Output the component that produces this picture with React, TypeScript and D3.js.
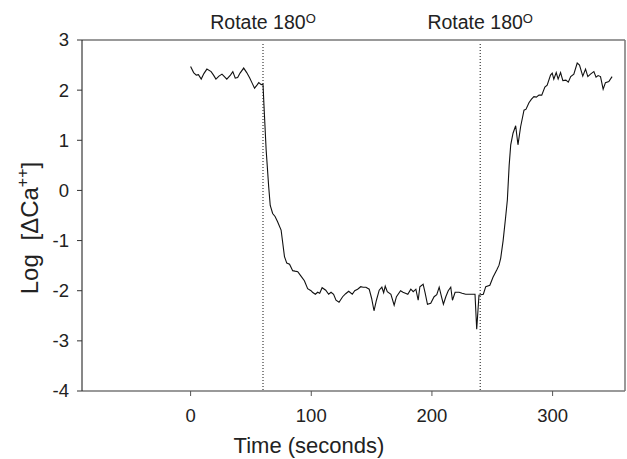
import React from 'react';
import * as d3 from 'd3';

// time (s) and log calcium change
const times = [
  0, 2.5, 4.7, 6.5, 8.8, 11, 13.5, 17, 19, 21, 23.5, 26, 28, 30, 33, 35, 37, 39, 41, 44,
  46.5, 49, 51, 53, 55, 56.5, 58.5, 60, 61, 62.6, 64.7, 66, 68, 70, 72, 75, 77.8, 79.7, 82, 84.6,
  86.5, 88.8, 91.5, 94.3, 97, 99.8, 101, 103.4, 105.3, 107, 109, 112, 114.4, 116.4, 118.5, 120.5, 123, 126, 128.5, 131,
  134, 136, 138.4, 141, 143, 145.3, 148, 150, 152, 154, 156.3, 158.5, 160, 161.3, 163, 166, 168.7, 170.6, 174, 176,
  178, 180, 182.5, 184.5, 186.7, 188.6, 190, 192.7, 194.4, 196.3, 199, 201.8, 204, 206, 207.9, 209.5, 211.5, 213.5, 215.6, 217,
  219.2, 222.5, 225, 228, 231, 233, 235.7, 237.1, 239, 240.5, 242.6, 244.6, 248, 250.6, 254, 255.6, 257, 259, 261, 262.5,
  264, 265.3, 267.2, 269.4, 271.3, 273.5, 276.3, 278, 280.4, 282.5, 284.5, 286.5, 288.7, 291, 293.6, 295.5, 298.3, 299.7, 301, 303,
  304.6, 306.6, 308.5, 311, 313, 315, 317.6, 320.4, 322.3, 325, 327.3, 329.2, 331.4, 334.2, 336, 337.7, 339.7, 341.9, 343.8, 346.6,
  349.3,
];
const logCa = [
  2.47, 2.35, 2.3, 2.31, 2.22, 2.33, 2.42, 2.37, 2.3, 2.22, 2.28, 2.32, 2.27, 2.22, 2.3, 2.37, 2.24, 2.25, 2.34, 2.44,
  2.35, 2.24, 2.14, 2.04, 2.1, 2.15, 2.11, 2.12, 1.6, 0.81, 0.08, -0.3, -0.46, -0.52, -0.62, -0.79, -1.32, -1.45, -1.47, -1.6,
  -1.61, -1.62, -1.71, -1.8, -1.96, -2.0, -2.03, -2.07, -2.03, -2.05, -1.94, -1.99, -2.07, -2.03, -2.07, -2.19, -2.23, -2.12, -2.06, -2.01,
  -2.07, -2.0, -1.97, -1.92, -1.93, -1.93, -1.97, -2.15, -2.4, -2.19, -1.99, -1.93, -2.04, -1.91, -2.02, -2.07, -2.29, -2.12, -2.0, -2.03,
  -2.05, -2.07, -1.97, -2.02, -1.97, -2.19, -1.92, -1.87, -2.05, -2.27, -2.25, -2.12, -2.08, -1.93, -2.12, -2.27, -2.12, -2.0, -1.93, -2.19,
  -2.03, -2.03, -2.05, -2.07, -2.07, -2.07, -2.07, -2.77, -2.09, -2.08, -2.07, -1.92, -1.89, -1.73, -1.57, -1.49, -1.35, -1.0, -0.55, -0.19,
  0.5, 0.91, 1.14, 1.29, 0.91, 1.27, 1.6, 1.62, 1.75, 1.82, 1.87, 1.86, 1.9, 1.9, 2.06, 2.1, 2.3, 2.34, 2.22, 2.35,
  2.22, 2.35, 2.19, 2.2, 2.16, 2.27, 2.32, 2.54, 2.5, 2.28, 2.42, 2.27, 2.32, 2.37, 2.26, 2.29, 2.27, 2.02, 2.15, 2.17,
  2.27,
];
const rotations = [60, 240];
const xTicks = [0, 100, 200, 300];
const yTicks = [3, 2, 1, 0, -1, -2, -3, -4];

const W = 627;
const H = 459;
const m = { left: 82, top: 40, right: 625, bottom: 391 };
const font = '"Liberation Sans", Arial, Helvetica, sans-serif';

export default function App() {
  const x = d3.scaleLinear().domain([-90, 360]).range([m.left, m.right]);
  const y = d3.scaleLinear().domain([-4, 3]).range([m.bottom, m.top]);

  const pts = times.map((t, i) => [t, logCa[i]] as [number, number]);
  const line = d3.line<[number, number]>().x(d => x(d[0])).y(d => y(d[1]));

  return (
    <svg width={W} height={H} style={{ position: 'absolute', left: 0, top: 0 }} fontFamily={font}>
      <rect width={W} height={H} fill="white" />
      {/* frame */}
      <line x1={m.left} x2={m.right} y1={m.top} y2={m.top} stroke="#777" strokeWidth={1.5} />
      <line x1={m.right} x2={m.right} y1={m.top} y2={m.bottom} stroke="#777" strokeWidth={1.5} />
      <line x1={m.left} x2={m.right} y1={m.bottom} y2={m.bottom} stroke="#777" strokeWidth={1.5} />
      <line x1={m.left} x2={m.left} y1={m.top} y2={m.bottom} stroke="#111" strokeWidth={1} />

      {yTicks.map(v => (
        <g key={v}>
          <line x1={m.left - 5} x2={m.left} y1={y(v)} y2={y(v)} stroke="#333" />
          <text x={m.left - 13} y={y(v)} dy="0.35em" textAnchor="end" fontSize={18.5} fill="#222">
            {v}
          </text>
        </g>
      ))}
      {xTicks.map(v => (
        <g key={v}>
          <line x1={x(v)} x2={x(v)} y1={m.bottom} y2={m.bottom + 5} stroke="#555" />
          <text x={x(v)} y={422} textAnchor="middle" fontSize={18.5} fill="#222">
            {v}
          </text>
        </g>
      ))}

      {rotations.map(t => (
        <g key={t}>
          <line x1={x(t)} x2={x(t)} y1={m.top + 4} y2={m.bottom} stroke="#111" strokeDasharray="1,2" />
          <text x={x(t)} y={29} textAnchor="middle" fontSize={19.5} fill="#222">
            Rotate 180<tspan fontSize={13} dy={-6}>O</tspan>
          </text>
        </g>
      ))}

      <path d={line(pts) ?? ''} fill="none" stroke="#111" strokeWidth={1.1} />

      <text x={309} y={453} textAnchor="middle" fontSize={22} fill="#222">
        Time (seconds)
      </text>
      <text transform="translate(38,228) rotate(-90)" textAnchor="middle" fontSize={24} fill="#222">
        Log <tspan dx={7}>[ΔCa</tspan><tspan fontSize={16} dy={-10}>++</tspan><tspan dy={10}>]</tspan>
      </text>
    </svg>
  );
}
